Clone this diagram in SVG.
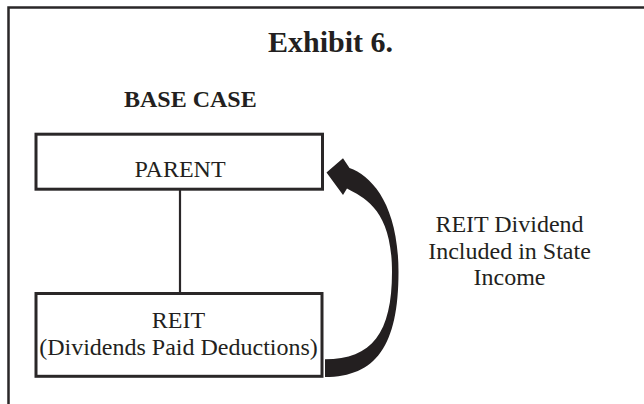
<svg xmlns="http://www.w3.org/2000/svg" width="644" height="404" viewBox="0 0 644 404">
<style>
  .t{font-family:"Liberation Serif","Times New Roman",serif;fill:#231f20;font-size:24px}
  .b{font-weight:bold}
  .h{font-size:30px}
  .box{fill:#fff;stroke:#2a2728;stroke-width:3}
  .ln{stroke:#2a2728;fill:none}
</style>
<rect width="644" height="404" fill="#fff"/>
<path class="ln" d="M8.5,404 V7.5 H644" stroke-width="2.5"/>
<text class="t b h" x="268" y="52">Exhibit 6.</text>
<text class="t b" x="124" y="107">BASE CASE</text>
<g id="connectors">
  <line class="ln" x1="180" y1="190" x2="180" y2="293" stroke-width="2.2"/>
  <path fill="#231f20" d="M325,377 C376,377 398.5,345.5 398.5,272 C398.5,205 372,176 349.5,168 L343,158.3 L326.5,172.5 L343,195 L347,188.5 C365,198 392,210 392,272 C392,333 372,359.3 325,359.3 Z"/>
</g>
<g id="parent">
  <rect class="box" x="36" y="134.2" width="286.5" height="55"/>
  <text class="t" x="180" y="176.7" text-anchor="middle">PARENT</text>
</g>
<g id="reit">
  <rect class="box" x="36" y="293.5" width="286" height="82.8"/>
  <text class="t" x="178.5" y="328" text-anchor="middle">REIT</text>
  <text class="t" x="178.5" y="355" text-anchor="middle">(Dividends Paid Deductions)</text>
</g>
<g id="label">
  <text class="t" x="509.5" y="232" text-anchor="middle">REIT Dividend</text>
  <text class="t" x="509.5" y="259" text-anchor="middle">Included in State</text>
  <text class="t" x="509.5" y="285" text-anchor="middle">Income</text>
</g>
</svg>
